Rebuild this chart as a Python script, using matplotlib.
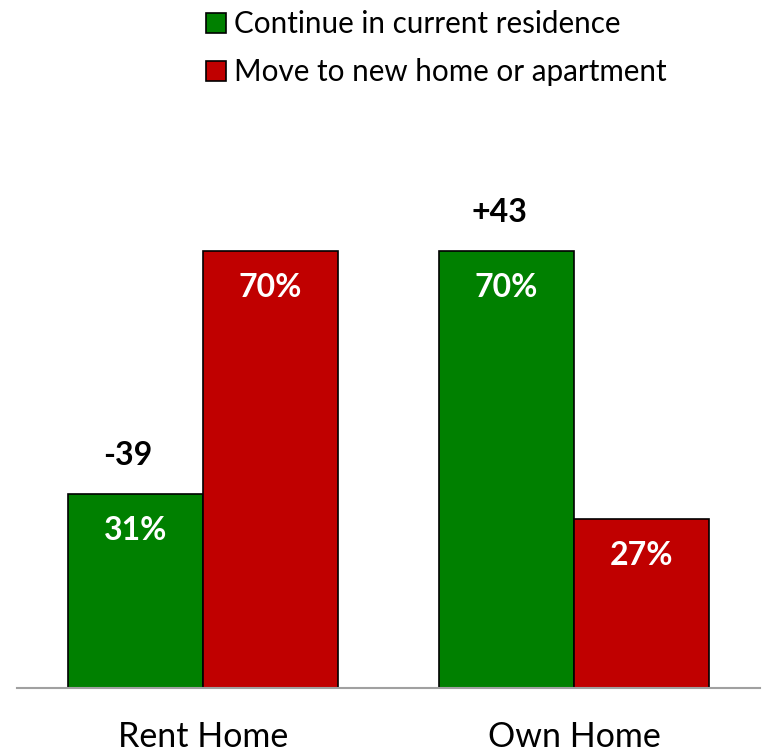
import matplotlib.pyplot as plt
import numpy as np

plt.rcParams['font.family'] = ['Lato', 'DejaVu Sans']

# survey shares by housing status
groups = ['Rent Home', 'Own Home']
series = ['Continue in current residence', 'Move to new home or apartment']
stay = [31, 70]
move = [70, 27]
colors = ['#008000', '#C00000']

W, H = 765, 753
fig = plt.figure(figsize=(W / 100, H / 100), dpi=100)
ax = fig.add_axes([17 / W, 65 / H, 743 / W, 624.3 / H])

x = np.arange(len(groups))
width = 0.364
bars_stay = ax.bar(x - width / 2, stay, width, color=colors[0], edgecolor='black',
                   linewidth=1.2, label=series[0], zorder=2)
bars_move = ax.bar(x + width / 2, move, width, color=colors[1], edgecolor='black',
                   linewidth=1.2, label=series[1], zorder=2)

# percentages inside the bars
for bars, vals in [(bars_stay, stay), (bars_move, move)]:
    for b, v in zip(bars, vals):
        ax.annotate(f'{v}%', (b.get_x() + b.get_width() / 2, v),
                    xytext=(0, -26), textcoords='offset points',
                    ha='center', va='center', color='white',
                    fontsize=23, fontweight='bold')

# gap between staying and moving, above the green bar
for b, s, m in zip(bars_stay, stay, move):
    ax.annotate(f'{s - m:+d}', (b.get_x() + b.get_width() / 2 - 0.02, s),
                xytext=(0, 28), textcoords='offset points',
                ha='center', va='center', color='black',
                fontsize=23, fontweight='bold')

ax.set_xlim(-0.5013, 1.5013)
ax.set_ylim(0, 100)
ax.set_xticks(x)
ax.set_xticklabels(groups, fontsize=24.5)
ax.tick_params(axis='x', length=0, pad=24)
ax.set_yticks([])
for side in ['top', 'right', 'left']:
    ax.spines[side].set_visible(False)
ax.spines['bottom'].set_color('#A0A0A0')
ax.spines['bottom'].set_linewidth(1.5)

ax.legend(loc='upper left', bbox_to_anchor=(206 / W, 1 - 10 / H),
          bbox_transform=fig.transFigure, frameon=False, fontsize=21.3,
          handlelength=0.66, handleheight=0.66, handletextpad=0.28,
          labelspacing=0.68, borderpad=0, borderaxespad=0)

fig.savefig('out.png', dpi=100)
